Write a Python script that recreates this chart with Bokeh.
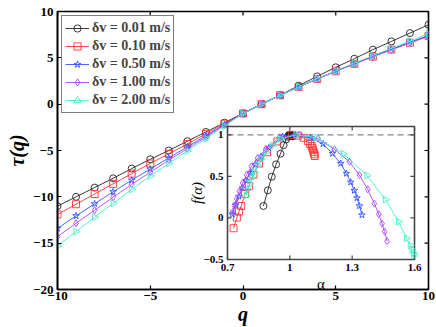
import math
from bokeh.plotting import figure
from bokeh.models import Range1d, Legend, LegendItem
from bokeh.core.properties import value
from bokeh.embed import file_html
from bokeh.resources import INLINE

# ---------------- data ----------------
q = list(range(-10, 11))
labels = ["δv = 0.01 m/s", "δv = 0.10 m/s", "δv = 0.50 m/s", "δv = 1.00 m/s", "δv = 2.00 m/s"]
colors = ["#222222", "#ff3333", "#3355ff", "#b044ff", "#44eecc"]
markers = ["circle", "square", "star", "diamond", "triangle"]

tau_001 = [-11.0, -10.0, -9.0, -8.0, -6.95, -5.95, -5.0, -4.0, -3.0, -2.0, -1.0,
           0.0, 0.97, 2.0, 3.0, 3.98, 4.9, 5.88, 6.77, 7.67, 8.57]
tau_010 = [-11.9, -10.8, -9.7, -8.6, -7.5, -6.4, -5.35, -4.3, -3.2, -2.1, -1.0,
           0.0, 0.96, 1.86, 2.72, 3.55, 4.35, 5.13, 5.89, 6.63, 7.36]
tau_050 = [-13.4, -12.05, -10.75, -9.45, -8.2, -7.0, -5.8, -4.6, -3.4, -2.2, -1.0,
           0.0, 0.96, 1.87, 2.73, 3.57, 4.38, 5.17, 5.94, 6.69, 7.42]
tau_100 = [-14.3, -12.85, -11.45, -10.05, -8.65, -7.35, -6.05, -4.8, -3.55, -2.25, -1.0,
           0.0, 0.96, 1.86, 2.72, 3.55, 4.35, 5.12, 5.87, 6.61, 7.33]
tau_200 = [-15.3, -13.75, -12.2, -10.7, -9.2, -7.75, -6.4, -5.05, -3.7, -2.35, -1.0,
           0.0, 0.96, 1.87, 2.75, 3.6, 4.43, 5.24, 6.03, 6.82, 7.6]

alpha_001 = [1.013, 1.012, 1.011, 1.010, 1.009, 1.008, 1.007, 1.006, 1.004, 1.002, 1.0,
             0.997, 0.994, 0.990, 0.982, 0.970, 0.955, 0.934, 0.913, 0.894, 0.873]
f_001 = [0.982, 0.984, 0.986, 0.988, 0.990, 0.992, 0.994, 0.996, 0.998, 0.999, 1.0,
         0.998, 0.99, 0.975, 0.944, 0.876, 0.772, 0.644, 0.496, 0.332, 0.144]
alpha_010 = [1.120, 1.118, 1.115, 1.112, 1.109, 1.105, 1.098, 1.087, 1.066, 1.040, 1.010,
             0.940, 0.890, 0.852, 0.825, 0.803, 0.785, 0.766, 0.755, 0.745, 0.729]
f_010 = [0.745, 0.765, 0.790, 0.815, 0.840, 0.865, 0.890, 0.924, 0.964, 0.990, 1.0,
         0.92, 0.79, 0.655, 0.52, 0.384, 0.29, 0.144, 0.076, 0.004, -0.124]
alpha_050 = [1.347, 1.335, 1.323, 1.310, 1.293, 1.272, 1.245, 1.205, 1.160, 1.100, 1.025,
             0.965, 0.899, 0.862, 0.835, 0.810, 0.790, 0.772, 0.755, 0.739, 0.723]
f_050 = [0.035, 0.145, 0.24, 0.33, 0.43, 0.535, 0.655, 0.775, 0.89, 0.965, 1.0,
         0.98, 0.844, 0.74, 0.644, 0.54, 0.45, 0.36, 0.26, 0.155, 0.044]
alpha_100 = [1.468, 1.456, 1.444, 1.428, 1.407, 1.375, 1.335, 1.287, 1.215, 1.135, 1.046,
             0.95, 0.885, 0.845, 0.815, 0.792, 0.773, 0.757, 0.744, 0.733, 0.724]
f_100 = [-0.28, -0.164, -0.068, 0.044, 0.172, 0.344, 0.516, 0.676, 0.825, 0.955, 1.0,
         0.97, 0.83, 0.72, 0.62, 0.52, 0.42, 0.32, 0.23, 0.15, 0.07]
alpha_200 = [1.598, 1.594, 1.588, 1.580, 1.562, 1.523, 1.460, 1.371, 1.258, 1.130, 1.03,
             0.955, 0.915, 0.885, 0.862, 0.845, 0.830, 0.818, 0.808, 0.799, 0.790]
f_200 = [-0.45, -0.42, -0.38, -0.33, -0.245, -0.045, 0.22, 0.51, 0.772, 0.965, 1.0,
         0.95, 0.87, 0.79, 0.71, 0.63, 0.55, 0.48, 0.41, 0.34, 0.27]

taus = [tau_001, tau_010, tau_050, tau_100, tau_200]
alphas = [alpha_001, alpha_010, alpha_050, alpha_100, alpha_200]
fs = [f_001, f_010, f_050, f_100, f_200]

x_lim = (-10, 10)
y_lim = (-20, 10)
x_ticks = [-10, -5, 0, 5, 10]
y_ticks = [-20, -15, -10, -5, 0, 5, 10]
ix_ticks = [0.7, 1, 1.3, 1.6]
iy_ticks = [-0.5, 0, 0.5, 1]
ix_lim = (0.7, 1.6)
iy_lim = (-0.5, 1.1)

# ---------------- layout (pixels) ----------------
W, H = 436, 327
BL, BR, BT, BB = 57, 8, 11, 38
FW, FH = W - BL - BR, H - BT - BB
INS_L, INS_R, INS_T, INS_B = 170, 357, 115, 248   # inset box inside frame (px from frame left/top)

sx = (ix_lim[1] - ix_lim[0]) / (INS_R - INS_L)
sy = (iy_lim[1] - iy_lim[0]) / (INS_B - INS_T)
ix_range = Range1d(ix_lim[0] - INS_L * sx, ix_lim[1] + (FW - INS_R) * sx)
iy_range = Range1d(iy_lim[0] - (FH - INS_B) * sy, iy_lim[1] + INS_T * sy)

SERIF = value("Liberation Serif")

p = figure(width=W, height=H, x_range=Range1d(*x_lim), y_range=Range1d(*y_lim),
           output_backend="svg", toolbar_location=None,
           min_border_left=BL, min_border_right=BR, min_border_top=BT, min_border_bottom=BB)
p.extra_x_ranges = {"ix": ix_range}
p.extra_y_ranges = {"iy": iy_range}
p.grid.visible = False
p.outline_line_color = "black"
p.outline_line_width = 1.6
p.background_fill_color = "white"
p.border_fill_color = "white"

def minus(v):
    return ("%g" % v).replace("-", "\u2212")

for ax in (p.xaxis[0], p.yaxis[0]):
    ax.axis_line_color = "black"
    ax.axis_line_width = 1.6
    ax.major_tick_line_color = "black"
    ax.major_tick_line_width = 1.2
    ax.major_tick_in = 4
    ax.major_tick_out = 0
    ax.minor_tick_line_color = None
    ax.major_label_text_font = "Liberation Serif"
    ax.major_label_text_font_style = "bold"
    ax.major_label_text_color = "black"
    ax.major_label_text_font_size = "13px"
    ax.axis_label_text_font = "Liberation Serif"
    ax.axis_label_text_font_style = "bold italic"
    ax.axis_label_text_font_size = "20px"
    ax.axis_label_text_color = "black"
p.xaxis.major_label_standoff = 2
p.yaxis.major_label_standoff = 4
p.xaxis.axis_label_standoff = 0
p.yaxis.axis_label_standoff = 2
p.xaxis.axis_label = "q"
p.yaxis.axis_label = "τ(q)"
p.xaxis.ticker = x_ticks
p.yaxis.ticker = y_ticks
p.xaxis.major_label_overrides = {t: minus(t) for t in x_ticks}
p.yaxis.major_label_overrides = {t: minus(t) for t in y_ticks}

# mirrored inward ticks on top and right edges
tx = 4 * (x_lim[1] - x_lim[0]) / FW
ty = 4 * (y_lim[1] - y_lim[0]) / FH
p.segment(x0=x_ticks, y0=[y_lim[1]] * len(x_ticks), x1=x_ticks, y1=[y_lim[1] - ty] * len(x_ticks),
          line_color="black", line_width=1.2)
p.segment(x0=[x_lim[1]] * len(y_ticks), y0=y_ticks, x1=[x_lim[1] - tx] * len(y_ticks), y1=y_ticks,
          line_color="black", line_width=1.2)

# ---------------- main curves ----------------
items = []
for lab, col, mk, tau in zip(labels, colors, markers, taus):
    ln = p.line(q, tau, line_color=col, line_width=0.9)
    ang = -math.pi / 2 if mk == "triangle" else 0.0
    sc = p.scatter(q, tau, marker=mk, size=7, fill_color=None, line_color=col,
                   line_width=0.9, angle=ang)
    items.append(LegendItem(label=lab, renderers=[ln, sc]))

legend = Legend(items=items, location="top_left")
legend.margin = 4
legend.padding = 3
legend.spacing = 0
legend.label_height = 18
legend.glyph_height = 18
legend.glyph_width = 24
legend.label_standoff = 3
legend.label_text_font = "Liberation Serif"
legend.label_text_font_style = "bold"
legend.label_text_font_size = "14px"
legend.border_line_color = "black"
legend.border_line_width = 1.2
legend.background_fill_color = "white"
legend.background_fill_alpha = 1.0
p.add_layout(legend)

# ---------------- inset ----------------
RN = dict(x_range_name="ix", y_range_name="iy")
p.quad(left=ix_lim[0], right=ix_lim[1], bottom=iy_lim[0], top=iy_lim[1],
       fill_color="white", line_color="#444444", line_width=1.6, **RN)
p.line([ix_lim[0], ix_lim[1]], [1, 1], line_color="#888888", line_dash="6 4",
       line_width=1.2, **RN)

tl = 4  # inner tick length px
n = len(ix_ticks)
p.segment(x0=ix_ticks, y0=[iy_lim[0]] * n, x1=ix_ticks, y1=[iy_lim[0] + tl * sy] * n,
          line_color="#444444", line_width=1.2, **RN)
p.segment(x0=ix_ticks, y0=[iy_lim[1]] * n, x1=ix_ticks, y1=[iy_lim[1] - tl * sy] * n,
          line_color="#444444", line_width=1.2, **RN)
m = len(iy_ticks)
p.segment(x0=[ix_lim[0]] * m, y0=iy_ticks, x1=[ix_lim[0] + tl * sx] * m, y1=iy_ticks,
          line_color="#444444", line_width=1.2, **RN)
p.segment(x0=[ix_lim[1]] * m, y0=iy_ticks, x1=[ix_lim[1] - tl * sx] * m, y1=iy_ticks,
          line_color="#444444", line_width=1.2, **RN)

for col, mk, a, f in zip(colors, markers, alphas, fs):
    p.line(a, f, line_color=col, line_width=0.9, **RN)
    ang = -math.pi / 2 if mk == "triangle" else 0.0
    p.scatter(a, f, marker=mk, size=7, fill_color=None, line_color=col,
              line_width=0.9, angle=ang, **RN)

p.text(x=ix_ticks, y=[iy_lim[0]] * n, text=["%g" % t for t in ix_ticks],
       text_font=SERIF, text_font_style="bold", text_font_size="11px",
       text_align="center", text_baseline="top", y_offset=4, **RN)
p.text(x=[ix_lim[0]] * m, y=iy_ticks, text=[minus(t) for t in iy_ticks],
       text_font=SERIF, text_font_style="bold", text_font_size="11px",
       text_align="right", text_baseline="middle", x_offset=-4, **RN)
p.text(x=[(ix_lim[0] + ix_lim[1]) / 2], y=[iy_lim[0]], text=["α"],
       text_font=SERIF, text_font_size="15px", text_align="center",
       text_baseline="middle", y_offset=24, **RN)
p.text(x=[ix_lim[0]], y=[(iy_lim[0] + iy_lim[1]) / 2], text=["f(α)"],
       text_font=SERIF, text_font_style="italic", text_font_size="15px",
       text_align="center", text_baseline="middle", x_offset=-31, angle=math.pi / 2, **RN)

open("out.html", "w").write(file_html(p, INLINE))
